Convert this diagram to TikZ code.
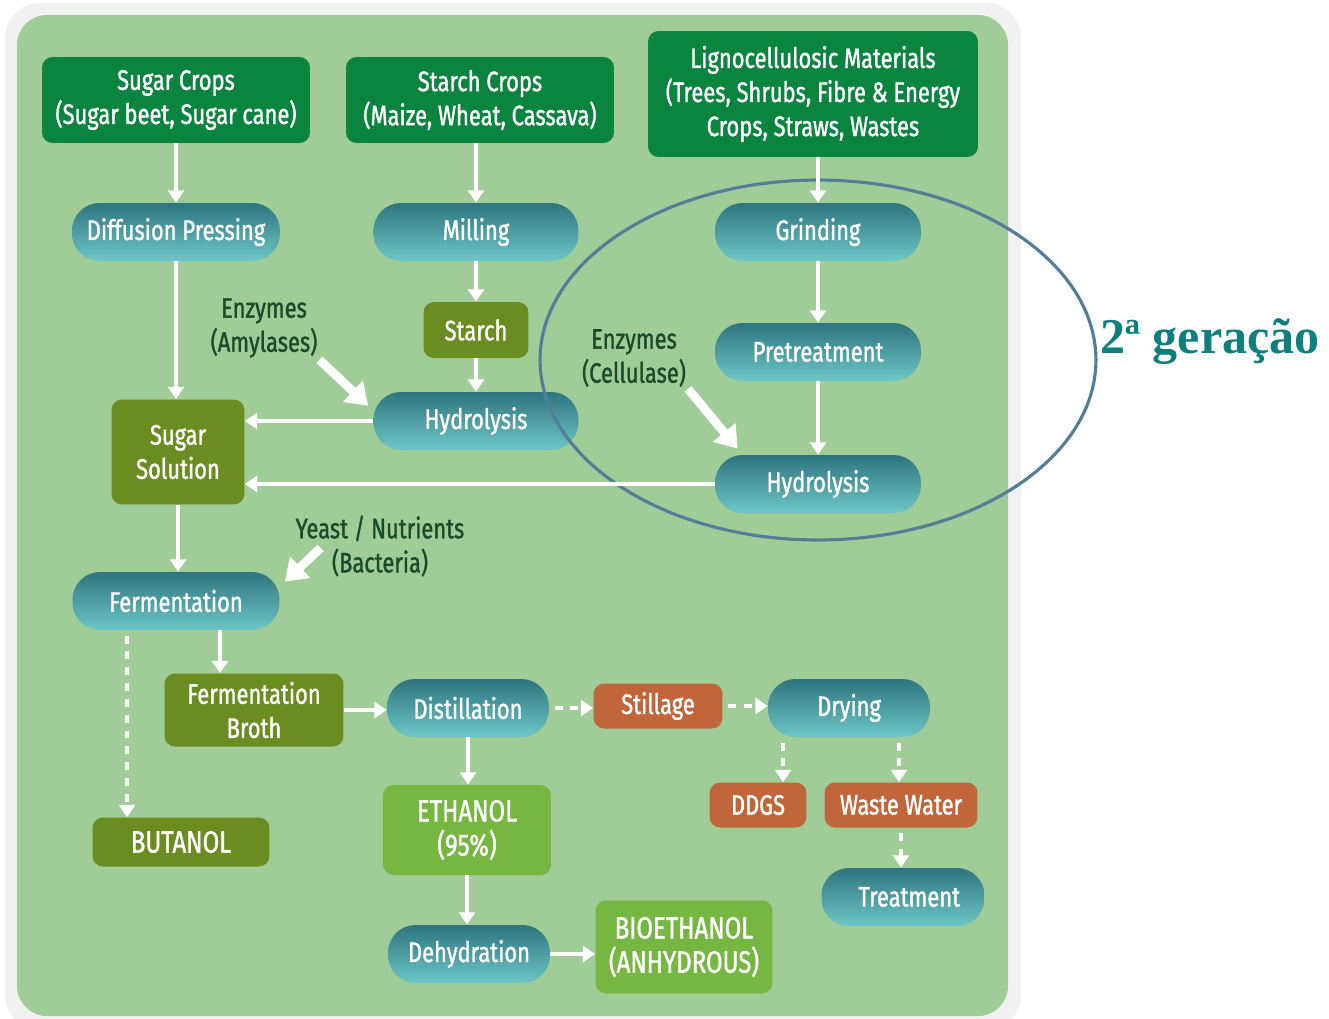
\documentclass[tikz,border=0pt]{standalone}
\usepackage{fontspec}
\setmainfont{Fira Sans}[FakeStretch=0.78, FakeBold=1.2]
\newfontfamily\gerfont{Liberation Serif}
\usepackage{xcolor}
\usepackage{tikz}
\usetikzlibrary{arrows.meta}
\usetikzlibrary{calc}
\definecolor{bggreen}{HTML}{9FCC97}
\definecolor{framegrey}{HTML}{F1F1F1}
\definecolor{srcgreen}{HTML}{0B843F}
\definecolor{olive}{HTML}{6A8D22}
\definecolor{prodgreen}{HTML}{76B742}
\definecolor{rust}{HTML}{C1663A}
\definecolor{tealtop}{HTML}{2E757E}
\definecolor{tealbot}{HTML}{6EC6C6}
\definecolor{labgreen}{HTML}{1A4B2B}
\definecolor{ringblue}{HTML}{527F97}
\definecolor{gencol}{HTML}{0E7F7D}
\tikzstyle{box} = [rectangle, rounded corners=6pt, text=white, align=center, inner sep=0pt, font=\fontsize{16}{19.4}\selectfont]
\tikzstyle{source} = [box, fill=srcgreen, minimum width=5.36cm, minimum height=1.72cm]
\tikzstyle{process} = [box, rounded corners=0.55cm, top color=tealtop, bottom color=tealbot, minimum height=1.16cm]
\tikzstyle{inter} = [box, fill=olive]
\tikzstyle{product} = [box, fill=prodgreen, font=\fontsize{17.5}{19.4}\selectfont]
\tikzstyle{byprod} = [box, fill=rust, minimum height=0.9cm]
\tikzstyle{note} = [text=labgreen, align=center, inner sep=1pt, font=\fontsize{16}{19.4}\selectfont]
\tikzstyle{arrow} = [white, line width=2.6pt, -{Triangle[length=7pt,width=9pt]}]
\tikzstyle{dasharrow} = [arrow, dash pattern=on 4.5pt off 4.5pt, shorten <=3pt]
\tikzstyle{bigarrow} = [white, line width=5pt, -{Triangle[length=12pt,width=16pt]}]

\begin{document}
\begin{tikzpicture}[x=0.02cm, y=-0.02cm]
			\useasboundingbox (0,0) rectangle (1329,1018);
			\fill[framegrey, rounded corners=0.7cm] (5,3) rectangle (1021,1030);
			\fill[bggreen, rounded corners=0.6cm] (17,15) rectangle (1008,1016);
			
			\node[source] (sugarcrops) at (176,100) {Sugar Crops\\(Sugar beet, Sugar cane)};
			\node[source] (starchcrops) at (480,100) {Starch Crops\\(Maize, Wheat, Cassava)};
			\node[source, minimum width=6.6cm, minimum height=2.52cm] (ligno) at (813,94) {Lignocellulosic Materials\\(Trees, Shrubs, Fibre \& Energy\\Crops, Straws, Wastes};
			
			\node[process, minimum width=4.16cm] (diffusion) at (176,232) {Diffusion Pressing};
			\node[process, minimum width=4.1cm] (milling) at (476,232) {Milling};
			\node[process, minimum width=4.12cm] (grinding) at (818,232) {Grinding};
			\node[inter, minimum width=2.1cm, minimum height=1.12cm] (starch) at (476,330) {Starch};
			\node[process, minimum width=4.12cm] (pretreat) at (818,352) {Pretreatment};
			\node[process, minimum width=4.1cm] (hydroA) at (476,421) {Hydrolysis};
			\node[process, minimum width=4.12cm] (hydroB) at (818,484) {Hydrolysis};
			\node[inter, minimum width=2.66cm, minimum height=2.1cm] (sugarsol) at (178,452) {Sugar\\Solution};
			\node[process, minimum width=4.14cm] (ferment) at (176,601) {Fermentation};
			\node[inter, minimum width=3.58cm, minimum height=1.46cm] (broth) at (254,710) {Fermentation\\Broth};
			\node[inter, font=\fontsize{17.5}{19.4}\selectfont, minimum width=3.54cm, minimum height=0.98cm] (butanol) at (181,842) {BUTANOL};
			\node[process, minimum width=3.24cm] (distil) at (468,708) {Distillation};
			\node[product, minimum width=3.36cm, minimum height=1.8cm] (ethanol) at (467,830) {ETHANOL\\(95\%)};
			\node[process, minimum width=3.24cm] (dehyd) at (469,954) {Dehydration};
			\node[product, minimum width=3.54cm, minimum height=1.86cm] (bioeth) at (684,947) {BIOETHANOL\\(ANHYDROUS)};
			\node[byprod, minimum width=2.58cm] (stillage) at (658,706) {Stillage};
			\node[process, minimum width=3.24cm] (drying) at (849,708) {Drying};
			\node[byprod, minimum width=1.94cm] (ddgs) at (758,805) {DDGS};
			\node[byprod, minimum width=3.06cm] (waste) at (901,805) {Waste Water};
			\node[process, minimum width=3.26cm] (treatment) at (903,897) {\hspace{0.25cm}Treatment};
			
			\node[note] (amyl) at (264,328) {Enzymes\\(Amylases)};
			\node[note] (cellu) at (634,358) {Enzymes\\(Cellulase)};
			\node[note] (yeast) at (380,546) {Yeast / Nutrients\\(Bacteria)};
			
			\draw[ringblue, line width=1.8pt] (818,360) ellipse [x radius=5.56cm, y radius=3.6cm];
			\node[text=gencol, font=\gerfont\bfseries\fontsize{28.5}{30}\selectfont, anchor=west, inner sep=0pt] (gen) at (1100,342) {2ª geração};
			
			\draw[arrow] (sugarcrops) -- (diffusion);
			\draw[arrow] (starchcrops.south -| milling.north) -- (milling.north);
			\draw[arrow] (ligno.south -| grinding.north) -- (grinding.north);
			\draw[arrow] (diffusion) -- (diffusion |- sugarsol.north);
			\draw[arrow] (milling) -- (starch);
			\draw[arrow] (starch) -- (hydroA);
			\draw[arrow] (grinding) -- (pretreat);
			\draw[arrow] (pretreat) -- (hydroB);
			\draw[arrow] (hydroA.west) -- (hydroA.west -| sugarsol.east);
			\draw[arrow] (hydroB.west) -- (hydroB.west -| sugarsol.east);
			\draw[arrow] (sugarsol) -- (sugarsol |- ferment.north);
			\draw[arrow] ([xshift=0.88cm]ferment.south) -- ([xshift=0.88cm]ferment.south |- broth.north);
			\draw[dasharrow] ([xshift=-0.98cm]ferment.south) -- ([xshift=-0.98cm]ferment.south |- butanol.north);
			\draw[arrow] (broth.east) -- (broth.east -| distil.west);
			\draw[arrow] (distil) -- (distil |- ethanol.north);
			\draw[arrow] (ethanol) -- (ethanol |- dehyd.north);
			\draw[arrow] (dehyd.east) -- (dehyd.east -| bioeth.west);
			\draw[dasharrow] (distil.east) -- (distil.east -| stillage.west);
			\draw[dasharrow] (stillage.east) -- (stillage.east -| drying.west);
			\draw[dasharrow] ([xshift=-1.32cm]drying.south) -- ([xshift=-1.32cm]drying.south |- ddgs.north);
			\draw[dasharrow] ([xshift=1cm]drying.south) -- ([xshift=1cm]drying.south |- waste.north);
			\draw[dasharrow] (waste.south) -- (waste.south |- treatment.north);
			
			\draw[bigarrow] (amyl.south east) -- ([shift={(-5,14)}]hydroA.north west);
			\draw[bigarrow] (cellu.south east) -- ([shift={(23,-6)}]hydroB.north west);
			\draw[bigarrow] ([shift={(27,2)}]yeast.west) -- ([shift={(5,10)}]ferment.north east);
			
		\end{tikzpicture}
\end{document}
